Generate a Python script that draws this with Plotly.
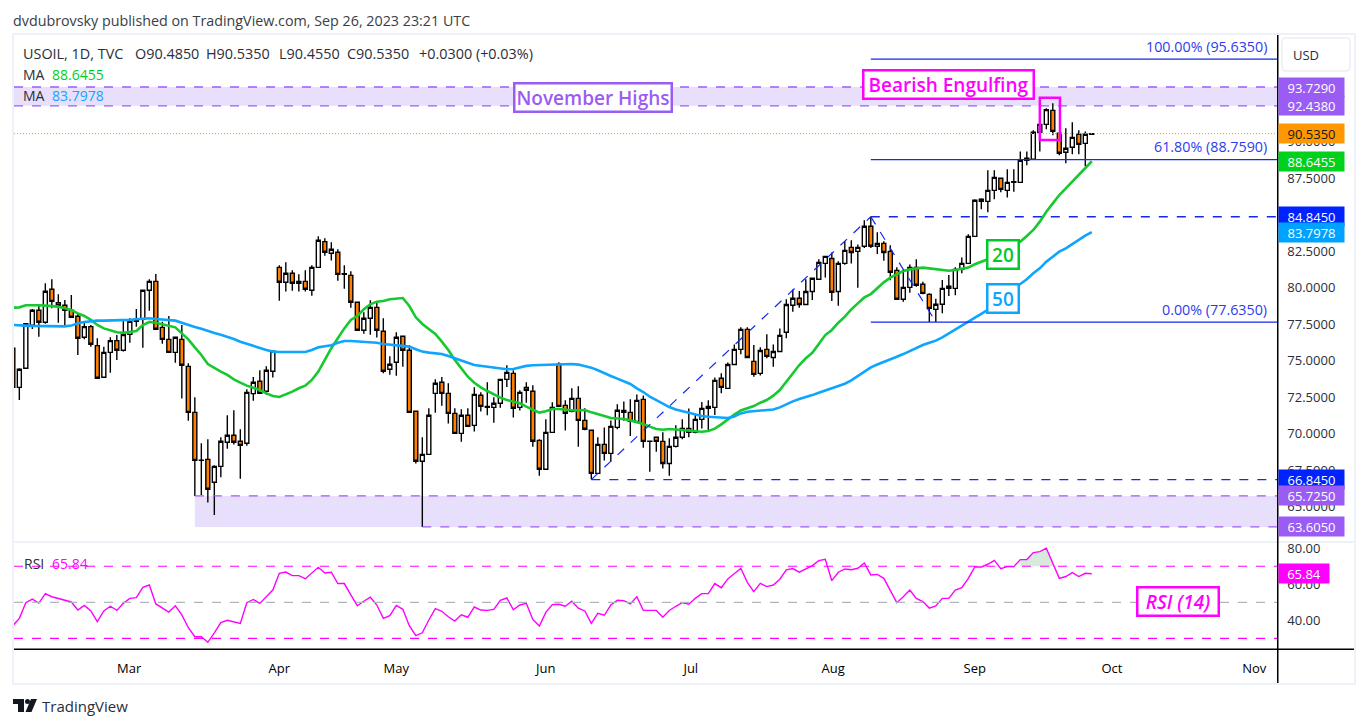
"""USOIL daily chart with 20/50 MA, RSI pane and drawn levels."""
import plotly.graph_objects as go

W, H = 1367, 728
FONT = "Open Sans"

# candles, one row per session
opens = [75.84,73.16,74.47,77.41,78.44,77.62,79.88,78.96,78.78,78.44,
         78.03,76.59,77.32,76.02,73.85,75.56,76.36,75.70,76.79,77.68,
         77.82,79.81,80.42,77.27,76.45,75.56,76.45,74.60,71.45,68.16,
         68.23,66.66,67.75,69.40,69.88,69.47,69.33,72.73,73.58,72.89,
         74.26,81.38,80.36,80.97,80.29,80.42,79.81,81.38,83.14,82.34,
         82.41,80.95,80.83,78.99,77.07,77.89,78.64,77.00,74.40,74.88,
         76.66,75.70,71.52,68.10,68.57,72.75,73.51,72.75,71.38,70.01,
         71.25,70.56,72.62,71.86,71.79,72.07,73.71,74.12,71.79,73.16,
         72.89,69.53,67.55,70.08,74.74,71.93,71.52,72.41,70.90,70.22,
         67.27,69.26,68.64,70.42,71.58,71.45,70.83,72.34,69.46,69.74,
         69.46,67.95,69.12,69.74,70.35,70.08,70.97,71.72,71.79,73.78,
         73.09,74.73,75.76,77.13,74.94,74.12,75.76,75.21,75.62,76.93,
         78.78,79.26,78.84,79.73,80.56,81.65,81.99,79.73,81.65,82.75,
         82.47,82.82,84.19,82.82,83.02,82.47,81.17,79.19,80.01,81.38,
         80.22,79.53,78.50,78.85,80.08,79.94,81.24,81.65,83.50,86.04,
         85.90,86.65,87.48,86.65,87.20,87.20,88.85,88.78,90.63,91.17,
         92.13,90.56,89.26,89.60,90.49,89.87,90.485]
highs = [78.00,74.47,77.55,78.53,78.80,80.29,80.56,79.53,79.15,79.49,
         78.23,77.66,77.43,76.52,75.95,76.59,76.75,77.78,77.89,78.53,
         79.81,80.56,80.93,77.66,78.05,76.59,77.43,74.81,72.48,69.33,
         69.60,67.82,69.74,71.25,71.59,70.29,73.03,73.87,74.33,74.60,
         75.63,81.52,81.73,81.18,80.90,81.18,81.52,83.51,83.37,83.10,
         82.62,81.52,81.11,78.99,78.30,79.12,79.01,77.89,75.29,76.93,
         76.66,76.04,71.52,69.74,71.73,73.71,73.87,73.44,71.73,71.66,
         71.73,73.16,72.82,73.51,72.48,73.71,74.67,74.33,72.96,73.51,
         73.30,69.60,70.97,72.14,74.88,72.27,73.10,73.23,71.73,70.22,
         69.74,70.42,70.90,72.00,72.20,72.34,72.68,72.61,69.51,69.74,
         70.08,69.67,70.56,70.97,71.72,71.31,72.16,72.27,73.84,74.12,
         74.87,76.10,77.27,77.27,76.06,75.90,76.79,76.10,77.20,79.19,
         79.87,79.76,80.56,80.63,81.93,82.13,82.40,81.79,83.16,83.23,
         82.95,84.60,84.845,83.78,83.16,82.89,81.38,81.10,81.58,81.93,
         80.40,79.60,79.23,80.51,80.85,81.38,82.06,83.64,86.04,86.11,
         88.02,88.02,87.54,88.09,88.09,89.32,89.32,90.76,91.93,92.27,
         92.61,90.56,90.90,91.31,90.76,90.69,90.535]
lows = [72.90,72.30,74.47,77.16,76.63,77.51,78.58,77.59,77.32,77.96,
        75.38,76.45,75.95,73.78,73.85,74.17,75.04,75.61,76.22,77.32,
        75.88,78.41,77.14,76.15,75.56,74.85,72.39,70.88,65.72,65.79,
        65.27,64.42,67.00,68.96,69.24,66.91,69.17,72.25,72.75,72.66,
        73.83,79.10,79.72,79.78,79.72,79.72,79.44,81.38,82.18,81.84,
        80.47,79.92,78.62,77.07,76.84,76.77,76.57,74.12,74.03,73.96,
        74.58,71.45,67.94,63.605,68.57,71.43,71.91,70.68,70.01,69.44,
        70.49,70.13,71.50,71.25,70.74,71.77,73.19,71.09,71.57,72.11,
        69.10,67.11,67.55,70.08,71.86,70.20,71.45,69.10,70.22,66.86,
        67.27,68.16,68.07,70.29,70.88,69.83,70.83,69.03,67.38,68.75,
        67.61,67.11,69.05,69.60,69.74,70.01,70.35,70.24,71.26,72.75,
        73.09,74.73,75.42,75.21,73.89,73.98,75.15,74.57,75.62,76.52,
        78.34,78.62,78.84,79.14,80.56,80.69,79.07,78.75,81.56,81.65,
        79.99,82.70,82.70,82.29,81.83,80.49,79.19,79.03,79.64,80.05,
        79.53,77.635,77.64,78.23,79.42,79.46,80.97,81.65,83.50,85.35,
        85.15,86.04,86.52,86.17,86.56,87.20,88.37,88.78,89.32,90.83,
        90.42,89.05,88.50,89.12,89.12,88.30,90.455]
closes = [73.16,74.40,77.52,78.44,77.62,79.74,79.05,78.76,78.44,77.96,
          76.52,77.32,76.11,73.78,75.56,76.36,75.70,76.77,77.68,77.82,
          79.81,80.42,77.14,76.45,75.56,76.59,74.67,71.45,68.16,68.18,
          66.18,67.75,69.47,69.88,69.40,69.19,72.82,73.51,72.75,74.33,
          75.63,80.36,80.97,80.29,80.42,79.88,81.38,83.23,82.41,82.62,
          80.90,80.90,78.99,77.07,77.89,78.64,77.07,74.26,74.74,76.59,
          75.70,71.45,68.10,68.57,71.25,73.44,72.75,71.38,70.01,71.25,
          70.49,72.68,71.86,71.79,72.07,73.71,74.19,71.73,72.82,72.96,
          69.47,67.55,70.08,71.79,71.86,71.38,72.41,70.90,70.29,67.27,
          69.26,68.64,70.49,71.59,71.45,70.83,72.27,69.46,69.48,69.46,
          67.95,69.12,69.74,70.35,70.08,70.97,71.72,71.86,73.64,73.16,
          74.73,75.76,77.13,75.21,74.05,75.69,75.28,75.62,76.72,78.84,
          79.26,78.84,79.73,80.63,81.72,82.13,79.67,81.65,82.54,82.40,
          82.75,84.19,82.82,83.02,82.40,81.04,79.19,80.01,81.38,80.15,
          79.60,78.57,78.85,79.94,79.94,81.24,81.65,83.50,85.97,85.90,
          86.65,87.54,86.72,87.20,87.25,88.71,88.71,90.63,91.17,92.18,
          90.69,89.19,89.53,90.28,89.80,90.49,90.535]

ma20 = [78.62,78.64,78.78,78.80,78.78,78.76,78.73,78.69,78.58,78.46,
        78.23,78.05,77.78,77.43,77.20,77.05,76.93,76.89,76.93,77.02,
        77.43,77.64,77.59,77.48,77.37,77.27,76.86,76.45,75.90,75.38,
        74.76,74.47,74.24,74.01,73.71,73.48,73.28,73.14,72.98,72.75,
        72.57,72.50,72.68,72.87,73.10,73.28,73.67,74.24,75.04,75.84,
        76.52,77.20,77.78,78.05,78.51,78.85,79.03,79.08,79.19,79.26,
        79.28,78.73,77.96,77.50,77.14,76.82,76.29,75.72,75.04,74.47,
        73.89,73.48,73.16,72.91,72.68,72.46,72.30,72.18,72.07,71.84,
        71.61,71.43,71.52,71.68,71.68,71.61,71.59,71.59,71.61,71.45,
        71.34,71.20,71.06,71.04,71.00,70.90,70.79,70.65,70.47,70.31,
        70.26,70.31,70.28,70.24,70.17,70.12,70.12,70.17,70.33,70.63,
        70.97,71.29,71.58,71.72,71.88,72.11,72.29,72.59,72.98,73.55,
        74.12,74.69,75.15,75.53,76.13,76.74,77.09,77.59,78.00,78.50,
        78.91,79.32,79.55,79.94,80.35,80.67,80.88,81.13,81.24,81.31,
        81.36,81.31,81.27,81.20,81.15,81.20,81.29,81.36,81.59,81.77,
        81.93,82.27,82.52,82.68,82.91,83.14,83.53,83.94,84.51,85.19,
        85.76,86.33,86.79,87.25,87.75,88.23,88.6455]
ma50 = [77.43,77.39,77.39,77.37,77.37,77.34,77.32,77.32,77.34,77.39,
        77.55,77.64,77.71,77.73,77.73,77.73,77.73,77.75,77.78,77.82,
        77.87,77.89,77.84,77.80,77.78,77.73,77.59,77.43,77.30,77.18,
        77.02,76.89,76.77,76.63,76.47,76.29,76.13,75.99,75.86,75.72,
        75.61,75.58,75.58,75.58,75.58,75.58,75.72,75.90,75.97,76.04,
        76.22,76.34,76.34,76.31,76.31,76.29,76.22,76.13,76.09,76.04,
        75.99,75.95,75.77,75.61,75.54,75.49,75.45,75.31,75.17,75.04,
        74.85,74.69,74.63,74.56,74.49,74.42,74.40,74.42,74.53,74.63,
        74.67,74.69,74.69,74.72,74.76,74.79,74.76,74.72,74.63,74.51,
        74.33,74.12,73.94,73.76,73.55,73.39,73.09,72.84,72.52,72.29,
        72.02,71.81,71.65,71.54,71.42,71.29,71.20,71.15,71.13,71.08,
        71.06,71.17,71.38,71.49,71.54,71.56,71.61,71.65,71.79,72.00,
        72.20,72.36,72.47,72.63,72.79,72.95,73.07,73.23,73.41,73.64,
        73.94,74.28,74.53,74.73,74.92,75.12,75.26,75.44,75.65,75.90,
        76.06,76.22,76.36,76.59,76.86,77.13,77.36,77.66,77.89,78.18,
        78.46,78.85,79.21,79.60,79.90,80.24,80.56,80.97,81.31,81.77,
        82.11,82.45,82.68,82.98,83.25,83.55,83.7978]
rsi = [37.0,41.1,49.8,51.8,49.6,54.8,53.1,52.2,51.3,50.2,
       45.7,48.3,45.2,39.3,45.2,47.8,45.5,49.4,52.2,52.6,
       58.3,59.6,49.1,46.8,44.6,48.1,43.0,35.9,30.9,30.9,
       27.8,33.1,38.7,40.0,39.1,38.3,49.8,51.6,49.4,53.0,
       56.8,66.1,66.8,64.8,64.8,63.1,66.5,69.4,66.3,66.7,
       60.4,60.4,54.1,48.1,50.6,52.8,48.5,41.1,42.6,48.3,
       46.1,37.0,31.5,33.1,40.2,46.5,45.0,42.0,39.6,43.1,
       41.7,47.4,45.7,45.5,46.1,51.1,52.4,45.9,48.5,49.4,
       40.5,36.8,44.4,48.7,48.9,47.8,50.6,46.7,45.2,38.3,
       43.9,42.8,48.5,51.1,50.9,49.1,53.1,45.5,45.5,45.5,
       41.7,45.5,47.8,49.8,48.9,52.2,54.8,54.8,60.4,58.1,
       63.0,65.7,68.9,61.1,55.9,60.5,58.7,59.6,62.8,68.0,
       68.7,66.7,68.5,70.4,73.1,73.9,62.0,66.7,68.5,68.1,
       68.9,71.8,65.2,65.5,63.3,56.8,49.8,53.1,56.8,52.2,
       50.4,46.8,48.0,52.2,52.2,56.8,58.1,63.3,69.6,69.6,
       71.1,73.3,68.7,69.8,69.8,73.7,73.7,77.6,78.1,80.0,
       71.7,63.3,64.3,66.5,64.3,66.1,65.84]
bars = list(range(len(closes)))

# axis ticks
month_pos = [17.9, 41, 59, 82, 104.3, 126.2, 148, 169.1, 191]
month_labels = ["Mar", "Apr", "May", "Jun", "Jul", "Aug", "Sep", "Oct", "Nov"]
price_ticks = [65, 67.5, 70, 72.5, 75, 77.5, 80, 82.5, 85, 87.5, 90]
rsi_ticks = [40, 60, 80]

# drawn levels
fib_levels = [95.635, 88.759, 77.635]
fib_labels = ["100.00% (95.6350)", "61.80% (88.7590)", "0.00% (77.6350)"]
zone_top = [92.438, 93.729]
zone_bottom = [63.605, 65.725]
swing_x = [89, 132, 142]
swing_y = [66.845, 84.845, 77.635]

# price scale badges
badge_values = [93.729, 92.438, 90.535, 88.6455, 84.845, 83.7978, 66.845, 65.725, 63.605]
badge_colors = ["#9a5cf5", "#9a5cf5", "#ff9800", "#00d11c", "#0022ff", "#00a2ff", "#0022ff", "#9a5cf5", "#9a5cf5"]

PURPLE = "#9a5cf5"
ZONE = "#e8dffc"
BLUE = "#1028f0"
MAGENTA = "#ff00ff"
GREEN = "#16c92e"
SKY = "#0ea5ff"
FRAME = "#eff1f8"
TEXT = "#2a2e39"

X_MIN, X_MAX = 0.18, 194.6


def px(x):
    return x / W


def py(y):
    return 1 - y / H


fig = go.Figure()
fig.add_trace(go.Scatter(x=bars, y=ma20, mode="lines", line=dict(color=GREEN, width=2.6), yaxis="y"))
fig.add_trace(go.Scatter(x=bars, y=ma50, mode="lines", line=dict(color=SKY, width=2.6), yaxis="y"))
fig.add_trace(go.Candlestick(
    x=bars, open=opens, high=highs, low=lows, close=closes, yaxis="y", whiskerwidth=0,
    increasing=dict(fillcolor="#ffffff", line=dict(color="#000000", width=1.4)),
    decreasing=dict(fillcolor="#ff7f00", line=dict(color="#000000", width=1.4)),
))

# RSI pane, the small overbought patch comes from the same values
over_x = [i for i in bars if 155 <= i <= 160]
over_y = [rsi[i] for i in over_x]
fig.add_trace(go.Scatter(x=over_x + over_x[::-1], y=over_y + [70] * len(over_x), fill="toself", mode="none",
                         fillcolor="rgba(120,190,140,0.3)", yaxis="y2"))
fig.add_trace(go.Scatter(x=bars, y=rsi, mode="lines", line=dict(color=MAGENTA, width=1.4), yaxis="y2"))

shapes = []


def hline(price, x0, dash="solid", color=BLUE, yref="y", width=1.3, layer="above"):
    shapes.append(dict(type="line", xref="x", yref=yref, x0=x0, x1=X_MAX, y0=price, y1=price, layer=layer,
                       line=dict(color=color, width=width, dash=dash)))


def frame_rect(x0, y0, x1, y1, color):
    shapes.append(dict(type="rect", xref="paper", yref="paper", x0=px(x0), x1=px(x1), y0=py(y0), y1=py(y1),
                       fillcolor=color, line=dict(width=0), layer="above"))


# purple zones
shapes.append(dict(type="rect", xref="x", yref="y", x0=X_MIN, x1=X_MAX, y0=zone_top[0], y1=zone_top[1],
                   fillcolor=ZONE, line=dict(width=0), layer="below"))
shapes.append(dict(type="rect", xref="x", yref="y", x0=28, x1=X_MAX, y0=zone_bottom[0], y1=zone_bottom[1],
                   fillcolor=ZONE, line=dict(width=0), layer="below"))
hline(zone_top[0], X_MIN, "dash", PURPLE)
hline(zone_top[1], X_MIN, "dash", PURPLE)
hline(zone_bottom[1], 28, "dash", PURPLE)
hline(zone_bottom[0], 63, "dash", PURPLE)

# fib lines and swing
for lvl in fib_levels:
    hline(lvl, 132)
hline(swing_y[0], 89, "dash")
hline(swing_y[1], 132, "dash")
for i in range(2):
    shapes.append(dict(type="line", xref="x", yref="y", x0=swing_x[i], x1=swing_x[i + 1], y0=swing_y[i],
                       y1=swing_y[i + 1], line=dict(color=BLUE, width=1.2, dash="dash")))

# last price dotted line
hline(closes[-1], X_MIN, "1px,2px", "#ff9800", width=1)

# box round the engulfing pair
shapes.append(dict(type="rect", xref="x", yref="y", x0=158, x1=161.1, y0=90.1, y1=93.0,
                   line=dict(color=MAGENTA, width=2.5)))

# RSI bands
hline(70, X_MIN, "dash", MAGENTA, "y2", 1.2)
hline(30, X_MIN, "dash", MAGENTA, "y2", 1.2)
hline(50, X_MIN, "dash", "#b2b5be", "y2", 1.2)

# window frame
frame_rect(12, 33, 1356, 35, FRAME)
frame_rect(12, 683, 1356, 685, FRAME)
frame_rect(12, 33, 14, 685, FRAME)
frame_rect(1354, 33, 1356, 685, FRAME)
frame_rect(14, 541, 1354, 543, FRAME)
frame_rect(1277, 35, 1278.5, 683, "#000000")
frame_rect(14, 648.5, 1354, 650, "#000000")


def svg(points):
    return " ".join(f"{c} {px(x):.5f},{py(y):.5f}" if c != "Z" else "Z" for c, x, y in points)


# USD button
shapes.append(dict(type="path", xref="paper", yref="paper", fillcolor="#ffffff", line=dict(color="#eceef4", width=1.5),
                   path="M {:.5f},{:.5f} L {:.5f},{:.5f} Q {:.5f},{:.5f} {:.5f},{:.5f} L {:.5f},{:.5f} Q {:.5f},{:.5f} {:.5f},{:.5f} "
                        "L {:.5f},{:.5f} Q {:.5f},{:.5f} {:.5f},{:.5f} L {:.5f},{:.5f} Q {:.5f},{:.5f} {:.5f},{:.5f} Z".format(
                       px(1286), py(38), px(1346), py(38), px(1350), py(38), px(1350), py(42),
                       px(1350), py(67), px(1350), py(71), px(1346), py(71),
                       px(1286), py(71), px(1282), py(71), px(1282), py(67),
                       px(1282), py(42), px(1282), py(38), px(1286), py(38))))

# TradingView logo
for pts in ([("M", 13, 699), ("L", 24, 699), ("L", 24, 712), ("L", 18, 712), ("L", 18, 704), ("L", 13, 704), ("Z", 0, 0)],
            [("M", 31, 699), ("L", 37, 699), ("L", 31.5, 712), ("L", 25.5, 712), ("Z", 0, 0)]):
    shapes.append(dict(type="path", xref="paper", yref="paper", path=svg(pts), fillcolor="#131722", line=dict(width=0)))
shapes.append(dict(type="circle", xref="paper", yref="paper", x0=px(25), x1=px(30), y0=py(704), y1=py(699),
                   fillcolor="#131722", line=dict(width=0)))

notes = []


def text_at(x, y, text, size=14, color=TEXT, anchor="left"):
    # annotations carry about 2px of padding
    notes.append(dict(xref="paper", yref="paper", x=px(x - 2), y=py(y), text=text, showarrow=False, xanchor=anchor,
                      yanchor="middle", font=dict(family=FONT, size=size, color=color)))


def boxed(x, y, text, color, w, h, yref="y", italic=False, size=19):
    label = f"<i>{text}</i>" if italic else text
    notes.append(dict(xref="x", yref=yref, x=x, y=y, text=label, showarrow=False, width=w, height=h, align="center",
                      valign="middle", bgcolor="#ffffff", bordercolor=color, borderwidth=2.5, borderpad=0,
                      font=dict(family=FONT, size=size, color=color, weight=600)))


text_at(13, 20, "dvdubrovsky published on TradingView.com, Sep 26, 2023 23:21 UTC", 14.3, "#3a3d45")
legend_parts = ["USOIL, 1D, TVC", "O90.4850", "H90.5350", "L90.4550", "C90.5350", "+0.0300 (+0.03%)"]
legend_x = [23, 135, 206, 279, 347, 419]
for lx, part in zip(legend_x, legend_parts):
    text_at(lx, 54, part, 14.4)
text_at(23, 75, "MA")
text_at(52, 75, "88.6455", color="#00d11c")
text_at(23, 96, "MA")
text_at(52, 96, "83.7978", color="#0ea5ff")
text_at(24, 563, "RSI")
text_at(52, 563, "65.84", color=MAGENTA)
text_at(1293, 55, "USD", 13)
text_at(42, 706, "TradingView", 15, "#2a2e39")

for lvl, lab in zip(fib_levels, fib_labels):
    notes.append(dict(xref="paper", yref="y", x=px(1269), y=lvl, yshift=13, text=lab, showarrow=False, xanchor="right",
                      yanchor="middle", font=dict(family=FONT, size=14.3, color="#2c3cf0")))

boxed(89.3, 92.98, "November Highs", PURPLE, 155, 26)
boxed(143.9, 93.9, "Bearish Engulfing", MAGENTA, 168, 26)
boxed(152.3, 82.26, "20", "#00c92a", 29, 26)
boxed(152.3, 79.25, "50", SKY, 29, 26)
boxed(179.3, 50.4, "RSI (14)", MAGENTA, 79, 26, "y2", True)

for val, col in zip(badge_values, badge_colors):
    notes.append(dict(xref="paper", yref="y", x=px(1277.5), y=val, text=f"{val:.4f}", showarrow=False, xanchor="left",
                      yanchor="middle", width=65, height=19, align="center", bgcolor=col, borderpad=0,
                      font=dict(family=FONT, size=13, color="#131722" if col == "#ff9800" else "#ffffff")))
notes.append(dict(xref="paper", yref="y2", x=px(1277.5), y=rsi[-1], text=f"{rsi[-1]:.2f}", showarrow=False, xanchor="left",
                  yanchor="middle", width=50, height=19, align="center", bgcolor=MAGENTA, borderpad=0,
                  font=dict(family=FONT, size=13, color="#ffffff")))

fig.update_layout(
    width=W, height=H, showlegend=False, paper_bgcolor="#ffffff", plot_bgcolor="#ffffff",
    margin=dict(l=0, r=0, t=0, b=0), shapes=shapes, annotations=notes, boxgap=0.12, boxgroupgap=0.3,
    font=dict(family=FONT, size=13, color=TEXT),
    xaxis=dict(domain=[px(14), px(1277.7)], range=[X_MIN, X_MAX], anchor="y2", rangeslider=dict(visible=False),
               automargin=False, showgrid=False, zeroline=False, showline=False, tickmode="array", tickvals=month_pos,
               ticktext=month_labels, ticks="outside", ticklen=7, tickcolor="rgba(0,0,0,0)",
               tickfont=dict(family=FONT, size=13, color="#000000")),
    yaxis=dict(domain=[py(541), py(35)], range=[62.64, 97.29], side="right", anchor="x", automargin=False, showgrid=False,
               zeroline=False, tickmode="array", tickvals=price_ticks, ticktext=[f"{t:.4f}" for t in price_ticks],
               ticks="outside", ticklen=6, tickcolor="rgba(0,0,0,0)", tickfont=dict(family=FONT, size=13, color=TEXT)),
    yaxis2=dict(domain=[py(649), py(543)], range=[24.1, 82.9], side="right", anchor="x", automargin=False, showgrid=False,
                zeroline=False, tickmode="array", tickvals=rsi_ticks, ticktext=[f"{t:.2f}" for t in rsi_ticks],
                ticks="outside", ticklen=6, tickcolor="rgba(0,0,0,0)", tickfont=dict(family=FONT, size=13, color=TEXT)),
)

fig.write_html("out.html", config=dict(displayModeBar=False), post_script="document.body.style.margin='0';")
